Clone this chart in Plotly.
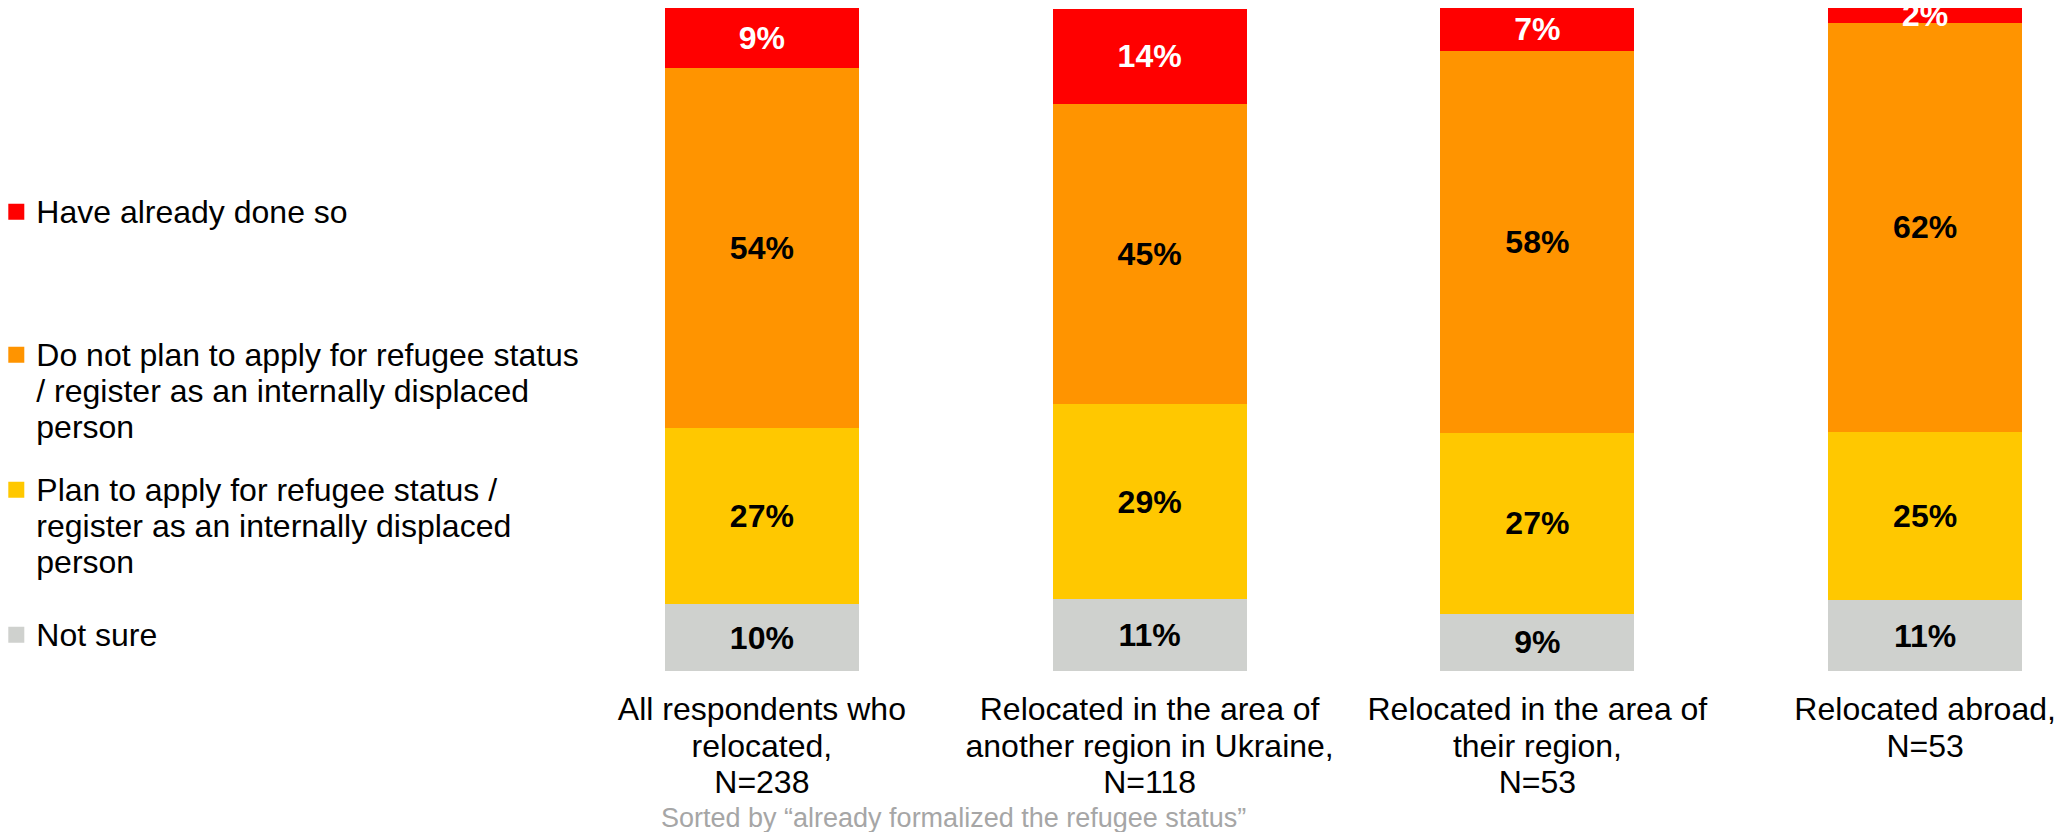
import plotly.graph_objects as go

categories = [
    "All respondents who\nrelocated,\nN=238",
    "Relocated in the area of\nanother region in Ukraine,\nN=118",
    "Relocated in the area of\ntheir region,\nN=53",
    "Relocated abroad,\nN=53",
]
not_sure = [10.1, 10.9, 8.6, 10.7]
plan_to_apply = [26.6, 29.3, 27.3, 25.3]
do_not_plan = [54.3, 45.3, 57.6, 61.8]
already_done = [9.1, 14.4, 6.6, 2.2]

series_names = [
    "Not sure",
    "Plan to apply for refugee status /\nregister as an internally displaced\nperson",
    "Do not plan to apply for refugee status\n/ register as an internally displaced\nperson",
    "Have already done so",
]
footnote = "Sorted by \u201calready formalized the refugee status\u201d"

FONT = "Arial, 'Liberation Sans', sans-serif"
PAGE_OFFSET = 8  # default body margin of the html page
W, H = 2062 - PAGE_OFFSET, 832 - PAGE_OFFSET
L_MARGIN, R_MARGIN, T_MARGIN, B_MARGIN = 560, 0, 0, 161
TEXT_SIZE = 32
LEGEND_BASE = 28    # line spacing = 1.3 x base
TICK_BASE = 28.2


def styled(label):
    # keep glyphs at TEXT_SIZE while line spacing follows the base font size
    return "<br>".join(
        '<span style="font-size:%dpx">%s</span>' % (TEXT_SIZE, line)
        for line in label.split("\n")
    )


plot_w = W - L_MARGIN - R_MARGIN
plot_h = H - T_MARGIN - B_MARGIN

colors = ["#CFD1CE", "#FFC800", "#FF9400", "#FF0000"]
text_colors = ["#000000", "#000000", "#000000", "#FFFFFF"]
series_values = [not_sure, plan_to_apply, do_not_plan, already_done]
legend_ids = ["legend4", "legend3", "legend2", "legend"]
legend_tops = [610, 465, 330, 187]  # px from top of page

fig = go.Figure()
for name, vals, col, tcol, lid in zip(series_names, series_values, colors, text_colors, legend_ids):
    fig.add_trace(go.Bar(
        x=categories, y=vals, name=styled(name),
        marker=dict(color=col, line=dict(width=0)),
        texttemplate="%{y:.0f}%",
        textposition="inside",
        insidetextanchor="middle",
        textangle=0,
        constraintext="none",
        textfont=dict(family=FONT, size=TEXT_SIZE, color=tcol, weight="bold"),
        showlegend=False,
        legendgroup=lid,
    ))
    # legend entry with a larger square swatch
    fig.add_trace(go.Scatter(
        x=[None], y=[None], mode="markers", name=styled(name),
        marker=dict(symbol="square", size=16, color=col),
        legend=lid, legendgroup=lid, hoverinfo="skip",
    ))

legend_left_fig = -3.7 - PAGE_OFFSET
legend_common = dict(
    xref="paper", yref="container",
    x=(legend_left_fig - L_MARGIN) / plot_w, xanchor="left", yanchor="top",
    font=dict(family=FONT, size=LEGEND_BASE, color="#000000"),
    bgcolor="rgba(0,0,0,0)", valign="top", itemclick=False, itemdoubleclick=False,
)
layout_legends = {}
for lid, top in zip(legend_ids, legend_tops):
    layout_legends[lid] = dict(legend_common, y=1 - (top - PAGE_OFFSET) / H)

fig.update_layout(
    width=W, height=H,
    barmode="stack", bargap=0.5,
    plot_bgcolor="white", paper_bgcolor="white",
    margin=dict(l=L_MARGIN, r=R_MARGIN, t=T_MARGIN, b=B_MARGIN, autoexpand=False),
    font=dict(family=FONT, size=TEXT_SIZE, color="#000000"),
    showlegend=True,
    **layout_legends,
)
fig.update_xaxes(
    range=[-0.5, 3.353], showline=False, showgrid=False, zeroline=False,
    tickmode="array", tickvals=categories, ticktext=[styled(c) for c in categories],
    ticks="outside", ticklen=14, tickcolor="rgba(0,0,0,0)",
    tickfont=dict(family=FONT, size=TICK_BASE, color="#000000"),
    automargin=False,
)
fig.update_yaxes(range=[0, 100], visible=False)

fig.add_annotation(
    text=footnote, xref="paper", yref="paper",
    x=(953 - PAGE_OFFSET - L_MARGIN) / plot_w,
    y=-(818 - PAGE_OFFSET - (H - B_MARGIN)) / plot_h,
    xanchor="center", yanchor="middle", showarrow=False,
    font=dict(family=FONT, size=27, color="#A6A6A6"),
)

fig.write_html("out.html")
